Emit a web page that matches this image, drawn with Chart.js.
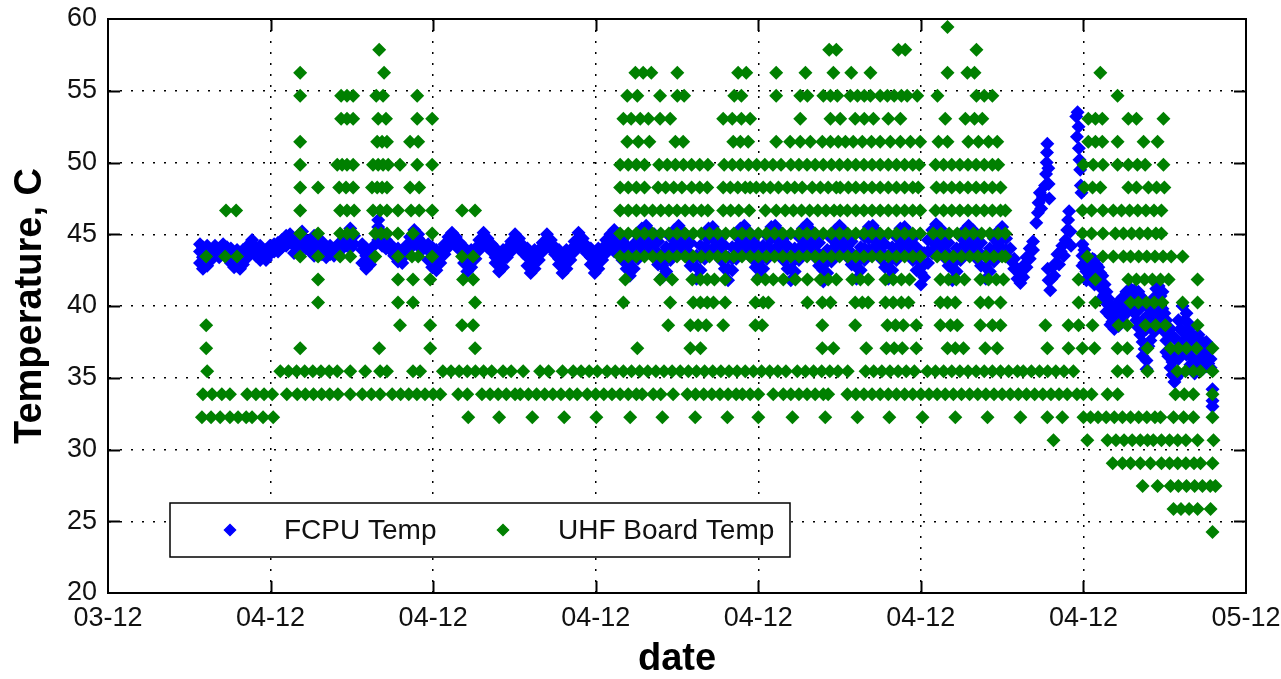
<!DOCTYPE html>
<html lang="en">
<head>
<meta charset="UTF-8">
<title>FCPU and UHF board temperature</title>
<script src="https://cdn.jsdelivr.net/npm/chart.js"></script>
<style>
  html, body { margin: 0; padding: 0; background: #fff; }
</style>
</head>
<body>
<canvas id="tempChart" width="1281" height="679"></canvas>
<script>
// x = days counted from the first tick, ticks every 5 days
const tickDays = [0, 5, 10, 15, 20, 25, 30, 35];
const tickLabels = ['03-12', '04-12', '04-12', '04-12', '04-12', '04-12', '04-12', '05-12'];
const tempTicks = [20, 25, 30, 35, 40, 45, 50, 55, 60];

// FCPU Temp: each row is [day, reading, reading, ...]
const fcpuSegA = [
  [2.83, 43.8, 43.0, 44.3], [2.92, 44.1, 42.6, 43.4], [3.05, 43.5, 42.8, 44.2], [3.17, 43.9, 43.2],
  [3.29, 44.2, 43.6], [3.42, 44.0, 43.4], [3.54, 44.3, 43.7], [3.66, 44.1, 43.5],
  [3.78, 43.6, 43.0, 44.0], [3.88, 43.2, 42.7], [3.97, 42.8, 43.4, 43.9], [4.06, 43.0, 42.6],
  [4.15, 43.4, 42.9, 43.9], [4.25, 43.9, 43.3], [4.34, 44.3, 43.7], [4.43, 44.6, 43.9],
  [4.55, 44.1, 43.5], [4.68, 43.7, 43.2, 44.2], [4.77, 43.4, 43.9], [4.86, 43.9, 43.2],
  [4.98, 44.2, 43.6], [5.11, 43.8, 44.3], [5.23, 44.4, 43.8], [5.35, 44.1, 44.6],
  [5.48, 44.9, 44.2], [5.6, 44.5, 45.0], [5.72, 44.2, 43.7, 44.7], [5.85, 44.6, 43.8],
  [5.97, 44.2, 45.2], [6.09, 44.0, 44.6], [6.22, 43.8, 44.5], [6.34, 44.9, 43.5, 44.2],
  [6.46, 44.4, 43.9], [6.58, 44.0, 43.6, 44.5], [6.71, 43.9, 43.4], [6.83, 43.6, 44.2],
  [6.95, 44.0, 43.5], [7.08, 44.3, 43.7], [7.2, 44.5, 44.0], [7.32, 44.2, 44.8],
  [7.45, 44.6, 45.4, 44.0], [7.57, 44.3, 44.9]
];
const fcpuSegB = [
  [7.82, 43.9, 43.0, 44.3], [7.94, 42.6, 43.5, 44.0], [8.06, 43.7, 42.9], [8.18, 44.2, 43.5],
  [8.31, 45.5, 46.0, 44.6], [8.43, 45.1, 44.2], [8.55, 44.6, 44.0], [8.68, 44.3, 43.9],
  [8.8, 44.0, 43.5], [8.92, 43.5, 43.1, 44.0], [9.05, 43.7, 43.0], [9.17, 44.2, 43.6],
  [9.29, 44.8, 44.0], [9.42, 45.3, 44.5], [9.54, 44.7, 45.0, 44.2], [9.66, 44.4, 43.9]
];
const fcpuSegC = [
  [9.85, 43.9, 43.2, 44.3], [9.97, 42.7, 43.6, 44.1], [10.1, 42.5, 43.3, 43.9], [10.22, 43.8, 43.0],
  [10.35, 44.3, 43.6], [10.47, 44.8, 44.1], [10.58, 45.1, 44.5], [10.7, 44.8, 44.2],
  [10.82, 44.4, 43.9], [10.95, 43.6, 43.0, 44.1], [11.05, 42.4, 42.9, 43.7], [11.17, 42.7, 43.5, 43.9],
  [11.3, 44.0, 43.3], [11.42, 44.6, 43.9], [11.55, 45.1, 44.4], [11.67, 44.7, 44.1],
  [11.8, 44.3, 43.8], [11.92, 43.4, 43.0, 44.0], [12.03, 42.4, 42.9, 43.6], [12.15, 43.3, 42.7, 43.9],
  [12.27, 44.0, 43.4], [12.4, 44.5, 43.8], [12.52, 45.0, 44.3], [12.64, 44.7, 44.0],
  [12.77, 44.2, 43.7], [12.9, 43.4, 42.8, 44.0], [13.0, 42.3, 43.0, 43.7], [13.12, 42.6, 43.4, 43.9],
  [13.25, 43.9, 43.2], [13.37, 44.4, 43.8], [13.5, 45.0, 44.2], [13.62, 44.6, 44.0],
  [13.75, 44.1, 43.6], [13.87, 43.3, 42.9, 43.9], [13.98, 42.3, 42.8, 43.6], [14.1, 42.6, 43.3, 43.9],
  [14.22, 43.9, 43.2], [14.35, 44.5, 43.8], [14.47, 45.1, 44.3], [14.6, 44.7, 44.1],
  [14.72, 44.2, 43.7], [14.85, 43.4, 42.9, 44.0], [14.97, 42.3, 42.8, 43.6], [15.08, 42.6, 43.5, 44.0]
];
const fcpuSegD = [
  [15.2, 43.2, 44.0], [15.32, 43.7, 44.6], [15.45, 44.2, 45.0], [15.57, 44.5, 45.3, 43.8],
  [15.7, 44.3, 45.0, 43.6], [15.82, 43.9, 44.6, 43.2], [15.95, 42.6, 43.4, 44.2], [16.05, 42.1, 42.9, 43.7],
  [16.17, 42.6, 43.5, 44.3], [16.3, 43.3, 44.1, 44.9], [16.42, 43.8, 44.6, 45.4], [16.55, 44.0, 44.8, 45.6],
  [16.67, 43.7, 44.5, 45.2], [16.8, 43.5, 44.3, 45.0], [16.92, 42.9, 43.7, 44.5], [17.05, 42.0, 42.8, 43.6],
  [17.17, 42.4, 43.3, 44.1], [17.3, 43.2, 44.0, 44.8], [17.42, 43.8, 44.6, 45.3], [17.55, 44.1, 44.9, 45.6],
  [17.67, 43.8, 44.5, 45.2], [17.8, 43.4, 44.2, 44.9], [17.92, 42.8, 43.6, 44.4], [18.1, 41.9, 42.7, 43.5],
  [18.22, 42.5, 43.4, 44.2], [18.35, 43.3, 44.1, 44.9], [18.47, 43.9, 44.7, 45.4], [18.6, 44.0, 44.8, 45.5],
  [18.72, 43.6, 44.4, 45.1], [18.85, 43.2, 44.0, 44.7], [18.97, 42.6, 43.4, 44.2], [19.07, 41.8, 42.6, 43.4],
  [19.2, 42.5, 43.3, 44.1], [19.32, 43.3, 44.1, 44.9], [19.45, 43.8, 44.6, 45.4], [19.57, 44.1, 44.9, 45.6],
  [19.7, 43.7, 44.5, 45.2], [19.82, 43.3, 44.1, 44.8], [19.92, 42.7, 43.5, 44.3], [20.02, 42.0, 42.8, 43.6],
  [20.15, 42.6, 43.4, 44.2], [20.27, 43.3, 44.1, 44.9], [20.4, 43.9, 44.7, 45.5], [20.52, 44.0, 44.8, 45.6],
  [20.65, 43.7, 44.5, 45.2], [20.77, 43.2, 44.0, 44.7], [20.9, 42.6, 43.4, 44.2], [21.0, 41.8, 42.6, 43.4],
  [21.12, 42.4, 43.2, 44.0], [21.25, 43.2, 44.0, 44.8], [21.37, 43.8, 44.6, 45.4], [21.5, 44.1, 44.9, 45.7],
  [21.62, 43.8, 44.6, 45.3], [21.75, 43.4, 44.2, 44.9], [21.87, 42.8, 43.6, 44.4], [22.0, 41.7, 42.5, 43.3],
  [22.12, 42.3, 43.1, 43.9], [22.25, 43.1, 43.9, 44.7], [22.37, 43.7, 44.5, 45.3], [22.5, 44.0, 44.8, 45.6],
  [22.62, 43.8, 44.6, 45.3], [22.75, 43.4, 44.2, 44.9], [22.87, 42.9, 43.7, 44.5], [23.02, 41.9, 42.7, 43.5],
  [23.15, 42.5, 43.3, 44.1], [23.27, 43.2, 44.0, 44.8], [23.4, 43.9, 44.7, 45.5], [23.52, 44.0, 44.8, 45.6],
  [23.65, 43.7, 44.5, 45.2], [23.77, 43.3, 44.1, 44.8], [23.9, 42.7, 43.5, 44.3], [24.0, 41.9, 42.7, 43.5],
  [24.12, 42.5, 43.3, 44.1], [24.25, 43.2, 44.0, 44.8], [24.37, 43.8, 44.6, 45.4], [24.5, 44.0, 44.8, 45.5],
  [24.62, 43.7, 44.5, 45.2], [24.75, 43.2, 44.0, 44.7], [24.87, 42.5, 43.3, 44.1], [25.0, 41.5, 42.3, 43.1],
  [25.1, 42.0, 42.9, 43.7], [25.22, 43.0, 43.8, 44.6], [25.35, 43.7, 44.5, 45.3], [25.47, 44.1, 44.9, 45.7],
  [25.6, 43.9, 44.7, 45.4], [25.72, 43.4, 44.2, 44.9], [25.85, 42.8, 43.6, 44.4], [25.97, 41.8, 42.6, 43.4],
  [26.1, 42.4, 43.2, 44.0], [26.22, 43.2, 44.0, 44.8], [26.35, 43.8, 44.6, 45.3], [26.47, 44.1, 44.9, 45.6],
  [26.6, 43.8, 44.6, 45.3], [26.72, 43.3, 44.1, 44.8], [26.85, 42.8, 43.6, 44.4], [27.0, 41.9, 42.7, 43.5],
  [27.12, 42.4, 43.2, 44.0], [27.25, 43.1, 43.9, 44.7], [27.37, 43.6, 44.4, 45.2], [27.5, 44.0, 44.8, 45.5]
];
const fcpuSegE = [
  [27.62, 43.9, 44.7], [27.75, 43.2, 44.0], [27.87, 42.6, 43.3], [27.97, 41.9, 42.6],
  [28.06, 41.6, 42.2], [28.15, 42.0, 42.8], [28.25, 42.7, 43.4], [28.35, 43.3, 44.0],
  [28.45, 43.9, 44.5],
  // first spike
  [28.55, 45.8], [28.6, 46.5], [28.62, 47.2], [28.66, 47.9], [28.7, 46.8], [28.75, 47.6],
  [28.82, 48.4], [28.85, 49.2], [28.87, 50.0], [28.88, 50.7], [28.89, 51.3], [28.92, 49.6],
  [28.93, 48.5], [28.95, 47.5],
  // climb before second spike
  [28.9, 42.6], [28.93, 41.8], [28.98, 41.1], [29.02, 41.9], [29.05, 42.7], [29.1, 42.1],
  [29.15, 43.0], [29.2, 43.6], [29.25, 42.9], [29.3, 43.8], [29.35, 44.2], [29.4, 43.5],
  [29.45, 44.6], [29.5, 45.3], [29.53, 46.0], [29.56, 46.6], [29.6, 45.2], [29.62, 44.2],
  // second spike
  [29.78, 53.2], [29.82, 53.5], [29.85, 52.5], [29.8, 51.8], [29.86, 51.0], [29.88, 50.2],
  [29.9, 49.5], [29.92, 48.4], [29.94, 47.9]
];
const fcpuSegF = [
  [29.97, 44.3, 43.5, 42.8], [30.03, 43.9, 43.0], [30.09, 43.4, 42.4, 41.8], [30.15, 42.9, 42.0],
  [30.22, 43.0, 41.8, 42.5], [30.28, 43.3, 42.6], [30.34, 43.2, 42.1, 41.5], [30.4, 42.9, 41.9],
  [30.46, 42.7, 41.5, 42.2], [30.52, 42.3, 41.3], [30.58, 42.1, 41.2, 40.6], [30.65, 41.5, 40.8],
  [30.71, 41.0, 40.2, 39.6], [30.77, 40.5, 39.7], [30.83, 40.0, 39.3, 38.7], [30.89, 39.6, 38.9],
  [30.95, 39.0, 38.4, 39.8], [31.02, 39.3, 38.6], [31.08, 38.6, 39.6, 40.3], [31.14, 39.0, 39.9],
  [31.2, 39.2, 40.0, 40.6], [31.26, 39.6, 40.4], [31.32, 39.5, 40.3, 41.0], [31.38, 40.0, 40.9],
  [31.45, 40.8, 40.2, 41.2], [31.51, 40.5, 39.8], [31.57, 40.6, 39.5, 41.1], [31.63, 40.9, 39.0],
  [31.69, 41.0, 38.5, 39.7], [31.75, 40.7, 38.0], [31.82, 40.5, 37.5, 36.5, 39.0], [31.88, 40.2, 37.0],
  [31.94, 40.0, 36.2, 35.6, 38.4], [32.0, 39.4, 37.2], [32.06, 38.9, 37.6, 40.1], [32.12, 40.4, 38.5],
  [32.18, 40.6, 39.5, 38.2], [32.24, 41.2, 39.0], [32.31, 40.2, 38.7, 41.4], [32.37, 40.7, 39.4],
  [32.43, 41.0, 39.8, 38.6], [32.49, 39.5, 38.2], [32.55, 39.0, 37.6, 36.8], [32.61, 38.1, 36.5],
  [32.68, 37.0, 35.7, 38.4], [32.74, 36.1, 35.2], [32.8, 35.5, 34.7, 36.4, 37.8], [32.86, 36.9, 35.0],
  [32.92, 35.2, 37.5, 39.0, 36.3], [32.98, 38.4, 36.6], [33.05, 40.0, 38.2, 36.8], [33.11, 39.0, 37.2],
  [33.17, 39.5, 37.8, 36.6], [33.23, 38.8, 37.3], [33.29, 38.5, 37.0, 35.9], [33.35, 38.0, 36.4],
  [33.42, 37.5, 36.2, 35.3], [33.48, 37.9, 36.0], [33.54, 37.0, 36.0, 38.0], [33.6, 37.6, 36.3],
  [33.66, 37.2, 36.5, 35.6], [33.72, 37.4, 35.9], [33.78, 36.8, 35.8, 37.5], [33.84, 37.2, 36.0],
  [33.91, 37.0, 36.3, 35.7], [33.97, 34.2, 33.4, 33.0]
];

// UHF Board Temp: quantised levels and the days each level was read
const uhfLevels = [59.45, 57.85, 56.25, 54.65, 53.05, 51.45, 49.85, 48.25, 46.65, 45.05, 43.45, 41.85,
                   40.25, 38.65, 37.05, 35.45, 33.85, 32.25, 30.65, 29.05, 27.45, 25.85, 24.25];
const uhfDays = [
  [25.82],
  [8.34, 22.18, 22.4, 24.31, 24.52, 26.71],
  [5.91, 8.49, 16.22, 16.46, 16.71, 17.51, 19.38, 19.63, 20.55, 21.45, 22.31, 22.86, 23.45, 25.82, 26.43, 26.65, 30.52],
  [5.91, 7.17, 7.35, 7.54, 8.25, 8.46, 9.51, 15.97, 16.28, 16.98, 17.51, 17.72, 19.26, 19.48, 20.55, 21.29, 21.51,
   22.0, 22.22, 22.43, 22.83, 23.05, 23.26, 23.45, 23.75, 23.97, 24.18, 24.4, 24.58, 24.89, 25.51, 26.71, 26.95, 27.2, 31.05],
  [7.17, 7.35, 7.54, 8.31, 8.55, 9.51, 9.97, 15.85, 16.09, 16.37, 16.62, 16.98, 17.29, 18.92, 19.2, 19.48, 19.75,
   21.29, 22.22, 22.52, 22.98, 23.26, 23.54, 24.0, 24.37, 25.75, 26.37, 26.65, 26.89, 30.15, 30.37, 30.58, 31.38, 31.63, 32.46],
  [5.91, 8.28, 8.43, 8.58, 9.29, 9.54, 15.97, 16.31, 16.65, 17.45, 17.69, 19.23, 19.45, 19.69, 20.55, 20.98, 21.29,
   21.6, 21.97, 22.22, 22.46, 22.68, 22.92, 23.2, 23.48, 23.75, 24.06, 24.37, 24.68, 24.98, 25.54, 25.82, 26.46,
   26.77, 27.08, 27.35, 30.15, 30.37, 30.58, 31.05, 31.85, 32.28],
  [5.91, 7.05, 7.2, 7.35, 7.54, 8.15, 8.31, 8.46, 8.62, 8.98, 9.51, 9.97, 15.75, 16.0, 16.25, 16.5, 16.95, 17.2,
   17.45, 17.7, 17.95, 18.2, 18.45, 18.95, 19.2, 19.45, 19.7, 19.95, 20.2, 20.45, 20.7, 21.0, 21.25, 21.5, 21.75,
   22.0, 22.25, 22.5, 22.75, 23.0, 23.25, 23.5, 23.75, 24.0, 24.25, 24.5, 24.75, 24.95, 25.45, 25.7, 25.95, 26.2,
   26.45, 26.7, 26.95, 27.2, 27.38, 30.0, 30.3, 30.6, 31.05, 31.38, 31.66, 31.9, 32.46],
  [5.91, 6.46, 7.11, 7.32, 7.54, 8.12, 8.28, 8.43, 8.58, 9.29, 9.57, 15.75, 16.0, 16.25, 16.5, 16.92, 17.15, 17.4,
   17.65, 17.95, 18.2, 18.43, 18.92, 19.14, 19.37, 19.6, 19.75, 19.94, 20.15, 20.37, 20.62, 20.89, 21.12, 21.35,
   21.66, 21.91, 22.15, 22.4, 22.52, 22.77, 23.0, 23.25, 23.5, 23.75, 24.0, 24.25, 24.5, 24.75, 24.92, 25.48, 25.7,
   25.95, 26.2, 26.45, 26.7, 26.95, 27.2, 27.45, 30.03, 30.28, 30.52, 31.38, 31.63, 32.0, 32.25, 32.49],
  [3.63, 3.94, 5.91, 7.14, 7.35, 7.57, 8.15, 8.37, 8.58, 8.92, 9.32, 9.57, 9.97, 10.89, 11.29, 15.75, 16.0, 16.25,
   16.5, 16.75, 17.0, 17.25, 17.5, 17.75, 18.0, 18.25, 18.45, 18.92, 19.15, 19.4, 19.72, 20.22, 20.55, 20.83, 21.08,
   21.33, 21.58, 21.83, 22.08, 22.33, 22.52, 22.74, 23.0, 23.25, 23.5, 23.75, 24.0, 24.25, 24.5, 24.75, 24.98, 25.45,
   25.7, 25.95, 26.2, 26.45, 26.7, 26.95, 27.2, 27.45, 27.6, 29.97, 30.25, 30.6, 30.92, 31.17, 31.42, 31.67, 31.92,
   32.17, 32.4],
  [5.91, 6.46, 7.14, 7.35, 7.54, 8.22, 8.4, 8.58, 8.92, 9.38, 9.97, 15.75, 16.0, 16.25, 16.5, 16.75, 17.0, 17.25,
   17.5, 17.75, 18.0, 18.25, 18.5, 18.75, 19.0, 19.25, 19.5, 19.75, 20.0, 20.25, 20.5, 20.75, 21.0, 21.25, 21.5,
   21.75, 22.0, 22.25, 22.5, 22.75, 23.0, 23.25, 23.5, 23.75, 24.0, 24.25, 24.5, 24.75, 24.98, 25.38, 25.62, 25.87,
   26.12, 26.37, 26.62, 26.87, 27.12, 27.37, 27.6, 29.97, 30.25, 30.6, 30.98, 31.23, 31.48, 31.73, 31.98, 32.23, 32.4],
  [3.02, 3.6, 3.97, 5.91, 6.46, 7.14, 7.45, 8.22, 8.92, 9.35, 9.54, 9.97, 10.89, 11.23, 15.75, 16.0, 16.25, 16.5,
   16.75, 17.0, 17.25, 17.5, 17.75, 18.0, 18.25, 18.5, 18.75, 19.0, 19.25, 19.5, 19.75, 20.0, 20.25, 20.5, 20.75,
   21.0, 21.25, 21.5, 21.75, 22.0, 22.25, 22.5, 22.75, 23.0, 23.25, 23.5, 23.75, 24.0, 24.25, 24.5, 24.75, 24.98,
   25.5, 25.75, 26.0, 26.25, 26.5, 26.75, 27.0, 27.25, 27.5, 27.6, 30.12, 30.6, 30.92, 31.23, 31.45, 31.7, 31.95,
   32.2, 32.45, 32.7, 33.05],
  [6.46, 8.92, 9.38, 9.91, 10.92, 11.23, 15.91, 16.98, 17.35, 17.97, 18.22, 18.43, 18.65, 18.98, 19.97, 20.22, 20.46,
   20.77, 21.14, 21.51, 21.91, 22.15, 22.4, 22.89, 23.14, 23.38, 23.91, 24.15, 24.4, 24.65, 25.6, 25.85, 26.09, 26.34,
   26.83, 27.08, 27.32, 27.54, 29.85, 30.37, 31.38, 31.63, 31.88, 32.12, 32.37, 32.62, 33.51],
  [6.46, 8.92, 9.38, 11.29, 15.85, 17.29, 18.0, 18.22, 18.43, 18.62, 18.98, 19.91, 20.15, 20.31, 21.51, 21.97, 22.22,
   22.98, 23.2, 23.38, 23.91, 24.15, 24.4, 24.62, 25.6, 25.82, 26.06, 26.83, 27.08, 27.45, 29.85, 30.37, 31.45, 31.69,
   31.94, 32.18, 32.43, 33.05, 33.51],
  [3.02, 8.98, 9.91, 10.89, 11.23, 17.23, 17.91, 18.15, 18.4, 18.92, 19.91, 20.12, 21.97, 22.98, 23.97, 24.22, 24.46,
   24.86, 25.6, 25.91, 26.12, 26.83, 27.2, 27.45, 28.83, 29.54, 29.85, 30.28, 31.08, 31.35, 31.91, 32.22, 32.52, 33.51],
  [3.02, 5.91, 8.34, 9.91, 11.29, 16.28, 17.91, 18.22, 21.97, 22.31, 23.32, 23.94, 24.18, 24.43, 24.86, 25.82, 26.06,
   26.31, 26.98, 27.35, 28.89, 29.54, 29.97, 30.34, 31.05, 31.35, 31.97, 32.68, 32.92, 33.17, 33.48, 33.97],
  [3.05, 5.3, 5.55, 5.8, 6.05, 6.3, 6.55, 6.8, 7.05, 7.45, 7.91, 8.37, 8.58, 9.38, 9.6, 10.3, 10.55, 10.8, 11.05,
   11.3, 11.55, 11.8, 12.15, 12.4, 12.77, 13.29, 13.55, 13.98, 14.31, 14.55, 14.8, 15.05, 15.35, 15.6, 15.85, 16.1,
   16.35, 16.6, 16.85, 17.1, 17.35, 17.6, 17.85, 18.1, 18.35, 18.6, 18.85, 19.1, 19.35, 19.6, 19.85, 20.1, 20.35,
   20.6, 20.85, 21.2, 21.45, 21.7, 21.95, 22.2, 22.45, 22.75, 23.3, 23.55, 23.8, 24.05, 24.3, 24.55, 24.8, 25.2,
   25.45, 25.7, 25.95, 26.2, 26.45, 26.7, 26.95, 27.2, 27.45, 27.7, 27.97, 28.15, 28.4, 28.65, 28.9, 29.15, 29.4,
   29.69, 31.05, 31.35, 31.97, 32.89, 33.14, 33.38, 33.6, 33.97],
  [2.92, 3.2, 3.5, 3.75, 4.28, 4.55, 4.8, 5.05, 5.5, 5.82, 6.07, 6.32, 6.57, 6.82, 7.07, 7.45, 7.82, 8.1, 8.37,
   8.74, 9.0, 9.25, 9.5, 9.75, 10.0, 10.22, 10.77, 11.05, 11.5, 11.75, 12.0, 12.25, 12.52, 12.68, 12.93, 13.18,
   13.43, 13.68, 13.93, 14.2, 14.43, 14.74, 15.0, 15.25, 15.5, 15.75, 16.0, 16.25, 16.43, 16.77, 17.0, 17.38, 17.82,
   18.07, 18.32, 18.57, 18.82, 19.07, 19.32, 19.51, 19.75, 20.0, 20.46, 20.77, 21.0, 21.25, 21.5, 21.75, 22.0,
   22.15, 22.74, 23.0, 23.25, 23.5, 23.75, 24.0, 24.25, 24.5, 24.75, 25.0, 25.25, 25.5, 25.75, 26.0, 26.25, 26.5,
   26.75, 27.0, 27.25, 27.5, 27.75, 28.0, 28.25, 28.5, 28.75, 29.0, 29.25, 29.5, 29.8, 30.0, 30.25, 30.74, 31.05,
   32.83, 33.1, 33.38, 33.97],
  [2.89, 3.17, 3.45, 3.75, 4.0, 4.25, 4.43, 4.77, 5.08, 11.08, 12.03, 13.05, 14.03, 15.02, 16.06, 17.05, 18.06,
   19.05, 20.0, 21.05, 22.06, 23.05, 24.03, 25.05, 26.06, 27.05, 28.06, 28.89, 29.35, 30.0, 30.22, 30.45, 30.7,
   30.95, 31.2, 31.45, 31.7, 31.95, 32.2, 32.37, 32.77, 33.08, 33.38, 33.97],
  [29.08, 30.12, 30.74, 31.0, 31.25, 31.5, 31.75, 31.97, 32.15, 32.4, 32.65, 32.9, 33.15, 33.51, 34.0],
  [30.9, 31.2, 31.45, 31.75, 32.06, 32.4, 32.65, 32.9, 33.15, 33.4, 33.6, 33.97],
  [31.82, 32.28, 32.68, 32.92, 33.17, 33.42, 33.66, 33.9, 34.06],
  [32.77, 33.0, 33.25, 33.51, 33.91],
  [33.97]
];

const fcpuColor = '#0000ff';
const uhfColor = '#008000';
const fontFamily = '"Liberation Sans", Arial, Helvetica, sans-serif';
const markerRadius = 7;

function expandRows(rows) {
  const out = [];
  rows.forEach(r => {
    for (let i = 1; i < r.length; i++) out.push({ x: r[0], y: r[i] });
  });
  return out;
}

const fcpuPoints = [].concat(
  expandRows(fcpuSegA), expandRows(fcpuSegB), expandRows(fcpuSegC),
  expandRows(fcpuSegD), expandRows(fcpuSegE), expandRows(fcpuSegF)
);
const uhfPoints = [];
uhfLevels.forEach((t, i) => {
  uhfDays[i].forEach(d => uhfPoints.push({ x: d, y: t }));
});

// box, inward ticks and the legend box, matlab style
const matlabFrame = {
  id: 'matlabFrame',
  afterDatasetsDraw(chart) {
    const { ctx, chartArea: a, scales } = chart;
    const xs = scales.x, ys = scales.y;
    const tickLen = 12;
    ctx.save();
    ctx.strokeStyle = '#000';
    ctx.lineWidth = 2;
    ctx.beginPath();
    tickDays.slice(1, -1).forEach(d => {
      const px = Math.round(xs.getPixelForValue(d)) + 0.5;
      ctx.moveTo(px, a.bottom); ctx.lineTo(px, a.bottom - tickLen);
      ctx.moveTo(px, a.top); ctx.lineTo(px, a.top + tickLen);
    });
    tempTicks.slice(1, -1).forEach(t => {
      const py = Math.round(ys.getPixelForValue(t)) + 0.5;
      ctx.moveTo(a.left, py); ctx.lineTo(a.left + tickLen, py);
      ctx.moveTo(a.right, py); ctx.lineTo(a.right - tickLen, py);
    });
    ctx.stroke();
    ctx.strokeRect(a.left, a.top, a.right - a.left, a.bottom - a.top);

    // legend
    const lx = a.left + 62, ly = a.top + 484, lw = 620, lh = 54;
    ctx.fillStyle = '#fff';
    ctx.fillRect(lx, ly, lw, lh);
    ctx.lineWidth = 1.5;
    ctx.strokeRect(lx, ly, lw, lh);
    const entries = [
      { label: 'FCPU Temp', color: fcpuColor, mx: lx + 60, tx: lx + 114 },
      { label: 'UHF Board Temp', color: uhfColor, mx: lx + 333, tx: lx + 388 }
    ];
    ctx.font = '28px ' + fontFamily;
    ctx.textBaseline = 'middle';
    ctx.textAlign = 'left';
    entries.forEach(e => {
      ctx.fillStyle = e.color;
      ctx.strokeStyle = e.color;
      Chart.helpers.drawPoint(ctx, { pointStyle: 'rectRot', radius: 5.5, borderWidth: 1 }, e.mx, ly + lh / 2);
      ctx.fillStyle = '#111';
      ctx.fillText(e.label, e.tx, ly + lh / 2 + 1);
    });
    ctx.restore();
  }
};

const ctx = document.getElementById('tempChart').getContext('2d');
new Chart(ctx, {
  type: 'scatter',
  data: {
    datasets: [
      {
        label: 'FCPU Temp',
        data: fcpuPoints,
        pointStyle: 'rectRot',
        pointRadius: markerRadius,
        pointBorderWidth: 0,
        backgroundColor: fcpuColor,
        borderColor: fcpuColor,
        order: 1
      },
      {
        label: 'UHF Board Temp',
        data: uhfPoints,
        pointStyle: 'rectRot',
        pointRadius: markerRadius,
        pointBorderWidth: 0,
        backgroundColor: uhfColor,
        borderColor: uhfColor,
        order: 0
      }
    ]
  },
  options: {
    responsive: false,
    animation: false,
    devicePixelRatio: 1,
    layout: { padding: { left: 0, top: 19, right: 35, bottom: 0 } },
    plugins: {
      legend: { display: false },
      tooltip: { enabled: false }
    },
    scales: {
      x: {
        type: 'linear',
        min: 0,
        max: 35,
        afterBuildTicks: s => { s.ticks = tickDays.map(v => ({ value: v })); },
        afterFit: s => { s.height = 86; s.paddingLeft = 0; s.paddingRight = 0; },
        ticks: {
          callback: (v, i) => tickLabels[i],
          autoSkip: false,
          maxRotation: 0,
          padding: 9,
          color: '#111',
          font: { family: fontFamily, size: 27 }
        },
        grid: { color: '#000', lineWidth: 1.5, drawTicks: false },
        border: { display: true, color: '#000', width: 2, dash: [2, 9] },
        title: {
          display: true,
          text: 'date',
          color: '#000',
          padding: 0,
          font: { family: fontFamily, size: 38, weight: 'bold', lineHeight: 1 }
        }
      },
      y: {
        min: 20,
        max: 60,
        afterBuildTicks: s => { s.ticks = tempTicks.map(v => ({ value: v })); },
        afterFit: s => { s.width = 108; s.paddingTop = 0; s.paddingBottom = 0; },
        ticks: {
          padding: 11,
          color: '#111',
          font: { family: fontFamily, size: 27 }
        },
        grid: { color: '#000', lineWidth: 1.5, drawTicks: false },
        border: { display: true, color: '#000', width: 2, dash: [2, 9] },
        title: {
          display: true,
          text: 'Temperature, C',
          color: '#000',
          padding: { top: 12, bottom: 0 },
          font: { family: fontFamily, size: 38, weight: 'bold', lineHeight: 1 }
        }
      }
    }
  },
  plugins: [matlabFrame]
});
</script>
</body>
</html>
